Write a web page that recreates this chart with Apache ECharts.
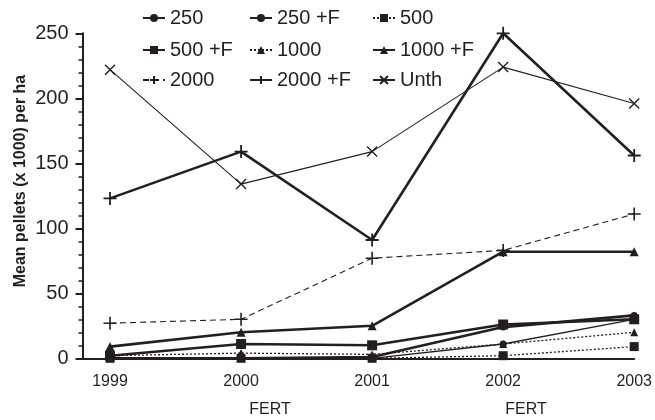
<!DOCTYPE html>
<html><head><meta charset="utf-8">
<script src="https://cdn.jsdelivr.net/npm/echarts@6/dist/echarts.min.js"></script>
<style>html,body{margin:0;padding:0;background:#fff}#c{width:655px;height:420px}</style>
</head><body><div id="c"></div>
<script>
const years = [1999, 2000, 2001, 2002, 2003];
const yTicks = [0, 50, 100, 150, 200, 250];
const names = ['250', '250 +F', '500', '500 +F', '1000', '1000 +F', '2000', '2000 +F', 'Unth'];
const v250   = [0, 0, 0, 11, 30];
const v250F  = [0, 0, 1, 24, 33];
const v500   = [0, 0, 0, 2, 9];
const v500F  = [2, 11, 10, 26, 30];
const v1000  = [2, 4, 3, 11, 20];
const v1000F = [9, 20, 25, 82, 82];
const v2000  = [27, 30, 77, 83, 111];
const v2000F = [123, 159, 91, 250, 156];
const vUnth  = [222, 134, 159, 224, 196];
const xLabelName = 'FERT';
const yTitle = 'Mean pellets (x 1000) per ha';

const values = [v250, v250F, v500, v500F, v1000, v1000F, v2000, v2000F, vUnth];
const C = '#231f20';
const FONT = 'Liberation Sans, Arial, sans-serif';
const PLUS = 'path://M0,5 L10,5 M5,0 L5,10';
const CROSS = 'path://M0,0 L10,10 M10,0 L0,10';
const styles = [
  {sym:'circle', size:7, w:1.3, type:'solid'},
  {sym:'circle', size:7, w:2.6, type:'solid'},
  {sym:'rect', size:9, w:1.3, type:[2,2]},
  {sym:'rect', size:10, w:2.6, type:'solid'},
  {sym:'triangle', size:8, w:1.3, type:[2,2]},
  {sym:'triangle', size:9, w:2.6, type:'solid'},
  {sym:PLUS, size:13, w:1.1, type:[6,4], stroke:1.6},
  {sym:PLUS, size:13, w:2.6, type:'solid', stroke:1.8},
  {sym:CROSS, size:10, w:1.1, type:'solid', stroke:1.4}
];
const series = names.map((n, i) => {
  const s = styles[i];
  return {
    name: n, type: 'line', clip: false,
    data: years.map((y, k) => [y, values[i][k]]),
    symbol: s.sym, symbolSize: s.size, showSymbol: true,
    lineStyle: {color: C, width: s.w, type: s.type},
    itemStyle: {color: s.stroke ? 'rgba(0,0,0,0)' : C, borderColor: C, borderWidth: s.stroke || 0},
    z: s.w > 2 ? 3 : 2
  };
});
const legLeft = [142, 249, 372];
const legTop = [8, 40, 70];
const legends = names.map((n, i) => ({
  data: [n], left: legLeft[i % 3], top: legTop[Math.floor(i / 3)],
  padding: 0, itemGap: 0, itemWidth: 22, itemHeight: 10, selectedMode: false,
  textStyle: {fontSize: 20, color: C, fontFamily: FONT}
}));

const chart = echarts.init(document.getElementById('c'));
chart.setOption({
  animation: false,
  backgroundColor: '#fff',
  textStyle: {fontFamily: FONT},
  grid: {left: 82.5, right: 9.3, top: 33.3, bottom: 61.7},
  legend: legends,
  xAxis: {
    type: 'value', min: 1998.79, max: 2003,
    axisLine: {show: true, lineStyle: {color: C, width: 2}},
    axisTick: {show: false}, splitLine: {show: false},
    axisLabel: {customValues: years, fontSize: 16, color: C, margin: 15, formatter: v => String(Math.round(v))}
  },
  yAxis: {
    type: 'value', min: yTicks[0], max: yTicks[yTicks.length - 1], interval: 50,
    axisLine: {show: true, lineStyle: {color: C, width: 2}},
    axisTick: {show: true, length: 7, lineStyle: {color: C, width: 2}},
    minorTick: {show: true, splitNumber: 5, length: 4, lineStyle: {color: C, width: 1.5}},
    splitLine: {show: false},
    axisLabel: {fontSize: 20, color: C, margin: 14}
  },
  graphic: [
    {type: 'text', x: 21, y: 181, rotation: Math.PI / 2,
     style: {text: yTitle, font: 'bold 16px ' + FONT, fill: C, align: 'center', verticalAlign: 'middle'}},
    {type: 'text', x: 270, y: 410, style: {text: xLabelName, font: '16px ' + FONT, fill: C, align: 'center', verticalAlign: 'middle'}},
    {type: 'text', x: 526, y: 410, style: {text: xLabelName, font: '16px ' + FONT, fill: C, align: 'center', verticalAlign: 'middle'}}
  ],
  series: series
});
</script></body></html>
